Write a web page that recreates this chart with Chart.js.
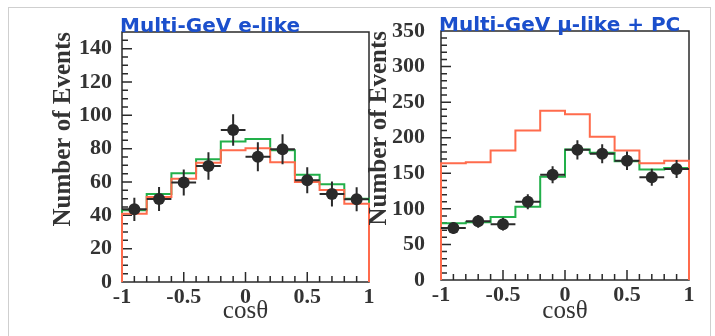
<!DOCTYPE html>
<html>
<head>
<meta charset="utf-8">
<script src="https://cdn.jsdelivr.net/npm/chart.js@4.4.1/dist/chart.umd.min.js"></script>
<style>
  body { margin: 0; background: #fff; }
  #wrap { position: relative; width: 715px; height: 336px; overflow: hidden; background: #fff; }
  #border { position: absolute; left: 8px; top: 7px; width: 701px; height: 360px; border: 1px solid #cfcfcf; }
  canvas { position: absolute; top: 0; }
  #eChart { left: 0; }
  #muChart { left: 365px; }
</style>
</head>
<body>
<div id="wrap">
  <div id="border"></div>
  <canvas id="eChart" width="380" height="336"></canvas>
  <canvas id="muChart" width="350" height="336"></canvas>
</div>
<script>
// cos(theta) bins
const binEdges = [-1, -0.8, -0.6, -0.4, -0.2, 0, 0.2, 0.4, 0.6, 0.8, 1];
const binCenters = [-0.9, -0.7, -0.5, -0.3, -0.1, 0.1, 0.3, 0.5, 0.7, 0.9];
const xTicks = [-1, -0.5, 0, 0.5, 1];

// Multi-GeV e-like
const eNoOsc = [41, 51, 62, 71.5, 79.1, 80.2, 71.8, 60, 55.2, 47];
const eOsc = [43, 52.8, 65.2, 73.6, 84.3, 85.8, 79, 64.4, 58.7, 50];
const eData = [43.6, 49.8, 59.7, 69.6, 91.2, 75.2, 79.6, 61, 52.8, 49.6];
const eErr = [7, 7.2, 7.8, 8.3, 9.5, 8.7, 9, 7.8, 7.5, 7.2];
const eYTicks = [0, 20, 40, 60, 80, 100, 120, 140];

// Multi-GeV mu-like + PC
const muNoOsc = [164, 165.5, 182, 210, 238, 233, 201.5, 182, 164, 167.7];
const muOsc = [79.7, 81, 88.5, 103, 145, 183.3, 179, 167, 155.3, 157.5];
const muData = [73, 82.5, 78.5, 110, 148, 183, 177.5, 167.5, 144.5, 156];
const muErr = [8.5, 9, 9, 10.5, 12, 13.5, 13.3, 13, 12, 12.5];
const muYTicks = [0, 50, 100, 150, 200, 250, 300, 350];

const ORANGE = '#ff6b4c';
const GREEN = '#22b04a';
const INK = '#2a2a2a';
const TEXT = '#333';

// histogram outline that starts and ends on zero
function stepPoints(values) {
  const pts = [{ x: binEdges[0], y: 0 }];
  values.forEach((v, i) => {
    pts.push({ x: binEdges[i], y: v });
    pts.push({ x: binEdges[i + 1], y: v });
  });
  pts.push({ x: binEdges[binEdges.length - 1], y: 0 });
  return pts;
}

function makePanel(id, p) {
  const framePlugin = {
    id: 'frame',
    beforeDatasetsDraw(chart) {
      const { ctx, chartArea: a, scales: { x, y } } = chart;
      ctx.save();
      ctx.strokeStyle = INK;
      ctx.lineWidth = 1.5;
      ctx.strokeRect(a.left, a.top, a.right - a.left, a.bottom - a.top);
      ctx.beginPath();
      // x ticks, pointing up from the bottom axis
      const nx = Math.round((x.max - x.min) / 0.1);
      for (let i = 1; i < nx; i++) {
        const v = x.min + i * 0.1;
        const len = xTicks.some(t => Math.abs(t - v) < 1e-6) ? 10 : 6;
        const px = x.getPixelForValue(v);
        ctx.moveTo(px, a.bottom);
        ctx.lineTo(px, a.bottom - len);
      }
      // y ticks, pointing right from the left axis
      const ny = Math.round((y.max - y.min) / p.yMinor);
      for (let i = 1; i < ny; i++) {
        const v = y.min + i * p.yMinor;
        const len = p.yTicks.includes(v) ? 10 : 6;
        const py = y.getPixelForValue(v);
        ctx.moveTo(a.left, py);
        ctx.lineTo(a.left + len, py);
      }
      ctx.stroke();
      ctx.restore();
    },
    afterDatasetsDraw(chart) {
      const { ctx, chartArea: a, scales: { x, y } } = chart;
      ctx.save();
      ctx.strokeStyle = INK;
      ctx.lineWidth = 2;
      ctx.beginPath();
      p.data.forEach((v, i) => {
        const cx = x.getPixelForValue(binCenters[i]);
        ctx.moveTo(cx, y.getPixelForValue(v + p.err[i]));
        ctx.lineTo(cx, y.getPixelForValue(v - p.err[i]));
        const cy = y.getPixelForValue(v);
        ctx.moveTo(x.getPixelForValue(binEdges[i]), cy);
        ctx.lineTo(x.getPixelForValue(binEdges[i + 1]), cy);
      });
      ctx.stroke();
      // panel title sits right on the frame
      ctx.fillStyle = '#1b4fcc';
      ctx.font = 'bold 20px "DejaVu Sans"';
      ctx.textBaseline = 'alphabetic';
      ctx.textAlign = 'left';
      ctx.fillText(p.title, a.left - 2, a.top - 0.5);
      ctx.restore();
    }
  };

  return new Chart(document.getElementById(id), {
    type: 'line',
    data: {
      datasets: [
        {
          label: 'Data',
          data: p.data.map((v, i) => ({ x: binCenters[i], y: v })),
          showLine: false,
          pointRadius: 6,
          pointBackgroundColor: INK,
          pointBorderWidth: 0,
          clip: false
        },
        {
          label: 'No oscillation',
          data: stepPoints(p.noOsc),
          borderColor: ORANGE,
          borderWidth: 2,
          pointRadius: 0,
          tension: 0,
          fill: false,
          clip: false
        },
        {
          label: 'Oscillation',
          data: stepPoints(p.osc),
          borderColor: GREEN,
          borderWidth: 2,
          pointRadius: 0,
          tension: 0,
          fill: false,
          clip: false
        }
      ]
    },
    options: {
      responsive: false,
      animation: false,
      devicePixelRatio: 1,
      layout: { padding: { top: p.padTop, right: p.padRight, left: 0, bottom: 0 } },
      plugins: { legend: { display: false }, tooltip: { enabled: false } },
      scales: {
        x: {
          type: 'linear',
          min: -1,
          max: 1,
          afterBuildTicks: s => { s.ticks = xTicks.map(v => ({ value: v })); },
          afterFit: s => { s.height = p.xHeight; },
          grid: { display: false, drawTicks: false },
          border: { display: false },
          ticks: {
            padding: 2,
            color: TEXT,
            font: { family: '"Liberation Serif"', weight: 'bold', size: 22 },
            callback: v => String(v)
          },
          title: {
            display: true,
            text: 'cosθ',
            color: TEXT,
            font: { family: '"Liberation Serif"', size: 25 },
            padding: { top: 0, bottom: 10 }
          }
        },
        y: {
          type: 'linear',
          min: 0,
          max: p.yMax,
          afterBuildTicks: s => { s.ticks = p.yTicks.map(v => ({ value: v })); },
          afterFit: s => { s.width = p.yWidth; },
          grid: { display: false, drawTicks: false },
          border: { display: false },
          ticks: {
            padding: p.yPad,
            color: TEXT,
            font: { family: '"Liberation Serif"', weight: 'bold', size: 22 },
            callback: v => String(v)
          },
          title: {
            display: true,
            text: 'Number of Events',
            align: 'end',
            color: TEXT,
            font: { family: '"Liberation Serif"', weight: 'bold', size: 25 },
            padding: { top: p.yTitlePad, bottom: 0 }
          }
        }
      }
    },
    plugins: [framePlugin]
  });
}

makePanel('eChart', {
  title: 'Multi-GeV e-like',
  noOsc: eNoOsc, osc: eOsc, data: eData, err: eErr,
  yMax: 150, yTicks: eYTicks, yMinor: 5,
  padTop: 32, padRight: 11, yWidth: 122, xHeight: 54, yPad: 10, yTitlePad: 49
});

makePanel('muChart', {
  title: 'Multi-GeV μ-like + PC',
  noOsc: muNoOsc, osc: muOsc, data: muData, err: muErr,
  yMax: 350, yTicks: muYTicks, yMinor: 10,
  padTop: 31, padRight: 26, yWidth: 76, xHeight: 56, yPad: 16, yTitlePad: 0
});
</script>
</body>
</html>
